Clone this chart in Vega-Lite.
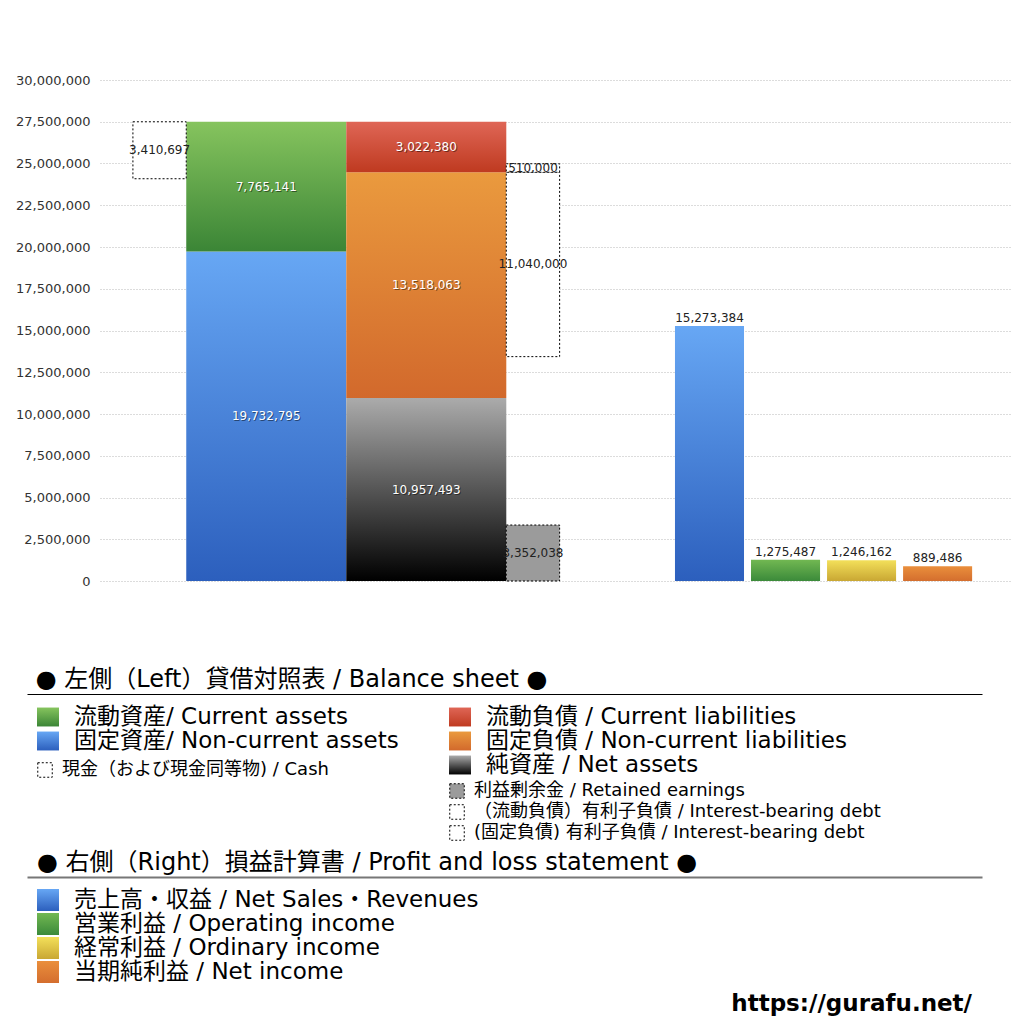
{
  "$schema": "https://vega.github.io/schema/vega-lite/v6.json",
  "padding": {"left": 15, "top": 74, "right": 5, "bottom": 5},
  "background": "white",
  "config": {
    "view": {"stroke": null},
    "font": "DejaVu Sans",
    "title": {"font": "DejaVu Sans, Noto Sans CJK JP", "fontWeight": "normal", "color": "#000000"}
  },
  "datasets": {
    "bs": [
      {"col": "資産", "item": "固定資産", "order": 1, "value": 19732795},
      {"col": "資産", "item": "流動資産", "order": 2, "value": 7765141},
      {"col": "負債・純資産", "item": "純資産", "order": 1, "value": 10957493},
      {"col": "負債・純資産", "item": "固定負債", "order": 2, "value": 13518063},
      {"col": "負債・純資産", "item": "流動負債", "order": 3, "value": 3022380}
    ],
    "boxes": [
      {"col": "現金", "item": "現金", "value": 3410697, "from": 24087239, "to": 27497936},
      {"col": "有利子負債", "item": "利益剰余金", "value": 3352038, "from": 0, "to": 3352038},
      {"col": "有利子負債", "item": "有利子負債(固定)", "value": 11040000, "from": 13435556, "to": 24475556},
      {"col": "有利子負債", "item": "有利子負債(流動)", "value": 510000, "from": 24475556, "to": 24985556}
    ],
    "pl": [
      {"col": "売上高", "item": "売上高", "value": 15273384},
      {"col": "営業利益", "item": "営業利益", "value": 1275487},
      {"col": "経常利益", "item": "経常利益", "value": 1246162},
      {"col": "当期純利益", "item": "当期純利益", "value": 889486}
    ],
    "legendBS": [
      {"col": "L", "row": 1, "kind": "main", "item": "流動資産", "label": "流動資産/ Current assets"},
      {"col": "L", "row": 2, "kind": "main", "item": "固定資産", "label": "固定資産/ Non-current assets"},
      {"col": "R", "row": 1, "kind": "main", "item": "流動負債", "label": "流動負債 /  Current liabilities"},
      {"col": "R", "row": 2, "kind": "main", "item": "固定負債", "label": "固定負債 / Non-current liabilities"},
      {"col": "R", "row": 3, "kind": "main", "item": "純資産", "label": "純資産 / Net assets"},
      {"col": "L", "row": 1, "kind": "sub", "item": "現金", "label": "現金（および現金同等物) / Cash"},
      {"col": "R", "row": 2, "kind": "sub", "item": "利益剰余金", "label": "利益剰余金 / Retained earnings"},
      {"col": "R", "row": 3, "kind": "sub", "item": "有利子負債(流動)", "label": "（流動負債）有利子負債 / Interest-bearing debt"},
      {"col": "R", "row": 4, "kind": "sub", "item": "有利子負債(固定)", "label": "　(固定負債) 有利子負債 / Interest-bearing debt"}
    ],
    "legendPL": [
      {"col": "L", "row": 1, "item": "売上高", "label": "売上高・収益 / Net Sales・Revenues"},
      {"col": "L", "row": 2, "item": "営業利益", "label": "営業利益 / Operating income"},
      {"col": "L", "row": 3, "item": "経常利益", "label": "経常利益 / Ordinary income"},
      {"col": "L", "row": 4, "item": "当期純利益", "label": "当期純利益 / Net income"}
    ]
  },
  "title": {
    "text": "https://gurafu.net/",
    "orient": "bottom",
    "anchor": "end",
    "font": "DejaVu Sans",
    "fontSize": 23,
    "fontWeight": "bold",
    "offset": 7,
    "dx": -83
  },
  "spacing": 80,
  "vconcat": [
    {
      "width": 910,
      "height": 501,
      "layer": [
        {
          "encoding": {
            "x": {
              "field": "col",
              "type": "nominal",
              "axis": null,
              "scale": {
                "type": "band",
                "domain": ["現金", "_a", "資産", "_b", "_c", "負債・純資産", "_d", "有利子負債", "_e", "_f", "_g", "_h", "_i", "_j", "_k", "_l"],
                "paddingInner": 0,
                "paddingOuter": 0.53,
                "align": 0.582
              }
            }
          },
          "layer": [
            {
              "data": {"name": "bs"},
              "transform": [
                {"stack": "value", "groupby": ["col"], "sort": [{"field": "order", "order": "ascending"}], "as": ["lo", "hi"]}
              ],
              "layer": [
                {
                  "encoding": {
                    "y": {
                      "field": "lo",
                      "type": "quantitative",
                      "title": null,
                      "scale": {"domain": [0, 30000000], "nice": false},
                      "axis": {
                        "values": [0, 2500000, 5000000, 7500000, 10000000, 12500000, 15000000, 17500000, 20000000, 22500000, 25000000, 27500000, 30000000],
                        "format": ",d",
                        "labelFont": "DejaVu Sans",
                        "labelFontSize": 13,
                        "labelColor": "#333333",
                        "labelPadding": 10,
                        "ticks": false,
                        "domain": false,
                        "grid": true,
                        "gridColor": "#b8b8b8",
                        "gridDash": [1, 2],
                        "gridWidth": 1,
                        "title": null
                      }
                    },
                    "y2": {"field": "hi"}
                  },
                  "layer": [
                    {
                      "transform": [{"filter": {"field": "item", "equal": "固定資産"}}],
                      "mark": {"type": "bar", "width": {"band": 3}, "color": {"gradient": "linear", "x1": 0, "y1": 0, "x2": 0, "y2": 1, "stops": [{"offset": 0, "color": "#67a7f4"}, {"offset": 1, "color": "#2c5fbd"}]}}
                    },
                    {
                      "transform": [{"filter": {"field": "item", "equal": "流動資産"}}],
                      "mark": {"type": "bar", "width": {"band": 3}, "color": {"gradient": "linear", "x1": 0, "y1": 0, "x2": 0, "y2": 1, "stops": [{"offset": 0, "color": "#86c45e"}, {"offset": 1, "color": "#3b8536"}]}}
                    },
                    {
                      "transform": [{"filter": {"field": "item", "equal": "純資産"}}],
                      "mark": {"type": "bar", "width": {"band": 3}, "color": {"gradient": "linear", "x1": 0, "y1": 0, "x2": 0, "y2": 1, "stops": [{"offset": 0, "color": "#ababab"}, {"offset": 1, "color": "#000000"}]}}
                    },
                    {
                      "transform": [{"filter": {"field": "item", "equal": "固定負債"}}],
                      "mark": {"type": "bar", "width": {"band": 3}, "color": {"gradient": "linear", "x1": 0, "y1": 0, "x2": 0, "y2": 1, "stops": [{"offset": 0, "color": "#ea9a3e"}, {"offset": 1, "color": "#d2692c"}]}}
                    },
                    {
                      "transform": [{"filter": {"field": "item", "equal": "流動負債"}}],
                      "mark": {"type": "bar", "width": {"band": 3}, "color": {"gradient": "linear", "x1": 0, "y1": 0, "x2": 0, "y2": 1, "stops": [{"offset": 0, "color": "#df6656"}, {"offset": 1, "color": "#bf3a20"}]}}
                    }
                  ]
                },
                {
                  "transform": [
                    {"fold": ["lo", "hi"], "as": ["edge", "pos"]},
                    {"aggregate": [{"op": "mean", "field": "pos", "as": "mid"}], "groupby": ["col", "item", "value"]}
                  ],
                  "encoding": {
                    "y": {"field": "mid", "type": "quantitative", "title": null},
                    "text": {"field": "value", "type": "quantitative", "format": ","}
                  },
                  "layer": [
                    {"mark": {"type": "text", "color": "#000000", "opacity": 0.45, "dx": 1, "dy": 1, "fontSize": 12, "baseline": "middle"}},
                    {"mark": {"type": "text", "color": "#ffffff", "fontSize": 12, "baseline": "middle"}}
                  ]
                }
              ]
            },
            {
              "data": {"name": "boxes"},
              "layer": [
                {
                  "mark": {"type": "bar", "stroke": "#000000", "strokeWidth": 1, "strokeDash": [2, 2]},
                  "encoding": {
                    "y": {"field": "from", "type": "quantitative", "title": null},
                    "y2": {"field": "to"},
                    "color": {
                      "field": "item",
                      "type": "nominal",
                      "legend": null,
                      "scale": {"domain": ["現金", "利益剰余金", "有利子負債(流動)", "有利子負債(固定)"], "range": ["#ffffff", "#9b9b9b", "#ffffff", "#ffffff"]}
                    }
                  }
                },
                {
                  "transform": [
                    {"fold": ["from", "to"], "as": ["edge", "pos"]},
                    {"aggregate": [{"op": "mean", "field": "pos", "as": "mid"}], "groupby": ["col", "item", "value"]}
                  ],
                  "mark": {"type": "text", "color": "#222222", "fontSize": 12, "baseline": "middle"},
                  "encoding": {
                    "y": {"field": "mid", "type": "quantitative", "title": null},
                    "text": {"field": "value", "type": "quantitative", "format": ","}
                  }
                }
              ]
            }
          ]
        },
        {
          "data": {"name": "pl"},
          "encoding": {
            "x": {
              "field": "col",
              "type": "nominal",
              "axis": null,
              "scale": {
                "type": "band",
                "domain": ["_p1", "_p2", "_p3", "_p4", "_p5", "_p6", "_p7", "売上高", "営業利益", "経常利益", "当期純利益"],
                "paddingInner": 0.0921,
                "paddingOuter": 0.53,
                "align": 0.53
              }
            },
            "y": {"field": "value", "type": "quantitative", "title": null}
          },
          "layer": [
            {
              "transform": [{"filter": {"field": "item", "equal": "売上高"}}],
              "mark": {"type": "bar", "color": {"gradient": "linear", "x1": 0, "y1": 0, "x2": 0, "y2": 1, "stops": [{"offset": 0, "color": "#67a7f4"}, {"offset": 1, "color": "#2c5fbd"}]}}
            },
            {
              "transform": [{"filter": {"field": "item", "equal": "営業利益"}}],
              "mark": {"type": "bar", "color": {"gradient": "linear", "x1": 0, "y1": 0, "x2": 0, "y2": 1, "stops": [{"offset": 0, "color": "#72b852"}, {"offset": 1, "color": "#3b8a3a"}]}}
            },
            {
              "transform": [{"filter": {"field": "item", "equal": "経常利益"}}],
              "mark": {"type": "bar", "color": {"gradient": "linear", "x1": 0, "y1": 0, "x2": 0, "y2": 1, "stops": [{"offset": 0, "color": "#f3e05a"}, {"offset": 1, "color": "#c9a733"}]}}
            },
            {
              "transform": [{"filter": {"field": "item", "equal": "当期純利益"}}],
              "mark": {"type": "bar", "color": {"gradient": "linear", "x1": 0, "y1": 0, "x2": 0, "y2": 1, "stops": [{"offset": 0, "color": "#ea8f3c"}, {"offset": 1, "color": "#d46e2e"}]}}
            },
            {
              "mark": {"type": "text", "color": "#222222", "fontSize": 12, "baseline": "bottom", "dy": -1},
              "encoding": {"text": {"field": "value", "type": "quantitative", "format": ","}}
            }
          ]
        }
      ],
      "resolve": {"scale": {"x": "independent"}}
    },
    {
      "spacing": 8,
      "vconcat": [
        {
          "width": 955,
          "height": 148,
          "title": {"text": "● 左側（Left）貸借対照表 / Balance sheet ●", "anchor": "start", "fontSize": 24, "offset": 2},
          "data": {"name": "legendBS"},
          "encoding": {
            "x": {
              "field": "col",
              "type": "nominal",
              "scale": {"type": "point", "domain": ["L", "R"], "range": [-73, 882], "padding": 0.659, "align": 0.0387},
              "axis": {"orient": "top", "title": null, "labels": false, "ticks": false, "grid": false, "domain": true, "domainColor": "#000000", "domainWidth": 1}
            }
          },
          "layer": [
            {
              "transform": [{"filter": "datum.kind === 'main'"}],
              "encoding": {
                "y": {
                  "field": "row",
                  "type": "quantitative",
                  "scale": {"domain": [0.04167, 6.20833], "reverse": true, "nice": false, "zero": false},
                  "axis": null
                }
              },
              "layer": [
                {
                  "transform": [{"filter": {"field": "item", "equal": "流動資産"}}],
                  "mark": {"type": "point", "filled": true, "opacity": 1, "shape": "M-1,-0.86H1V0.86H-1Z", "size": 484, "color": {"gradient": "linear", "x1": 0, "y1": 0, "x2": 0, "y2": 1, "stops": [{"offset": 0, "color": "#86c45e"}, {"offset": 1, "color": "#3b8536"}]}}
                },
                {
                  "transform": [{"filter": {"field": "item", "equal": "固定資産"}}],
                  "mark": {"type": "point", "filled": true, "opacity": 1, "shape": "M-1,-0.86H1V0.86H-1Z", "size": 484, "color": {"gradient": "linear", "x1": 0, "y1": 0, "x2": 0, "y2": 1, "stops": [{"offset": 0, "color": "#67a7f4"}, {"offset": 1, "color": "#2c5fbd"}]}}
                },
                {
                  "transform": [{"filter": {"field": "item", "equal": "流動負債"}}],
                  "mark": {"type": "point", "filled": true, "opacity": 1, "shape": "M-1,-0.86H1V0.86H-1Z", "size": 484, "color": {"gradient": "linear", "x1": 0, "y1": 0, "x2": 0, "y2": 1, "stops": [{"offset": 0, "color": "#df6656"}, {"offset": 1, "color": "#bf3a20"}]}}
                },
                {
                  "transform": [{"filter": {"field": "item", "equal": "固定負債"}}],
                  "mark": {"type": "point", "filled": true, "opacity": 1, "shape": "M-1,-0.86H1V0.86H-1Z", "size": 484, "color": {"gradient": "linear", "x1": 0, "y1": 0, "x2": 0, "y2": 1, "stops": [{"offset": 0, "color": "#ea9a3e"}, {"offset": 1, "color": "#d2692c"}]}}
                },
                {
                  "transform": [{"filter": {"field": "item", "equal": "純資産"}}],
                  "mark": {"type": "point", "filled": true, "opacity": 1, "shape": "M-1,-0.86H1V0.86H-1Z", "size": 484, "color": {"gradient": "linear", "x1": 0, "y1": 0, "x2": 0, "y2": 1, "stops": [{"offset": 0, "color": "#ababab"}, {"offset": 1, "color": "#000000"}]}}
                },
                {
                  "mark": {"type": "text", "align": "left", "baseline": "middle", "dx": 26, "fontSize": 23, "font": "DejaVu Sans, Noto Sans CJK JP", "color": "#000000"},
                  "encoding": {"text": {"field": "label"}}
                }
              ]
            },
            {
              "transform": [{"filter": "datum.kind === 'sub'"}],
              "encoding": {
                "y": {
                  "field": "row",
                  "type": "quantitative",
                  "scale": {"domain": [-2.619, 4.429], "reverse": true, "nice": false, "zero": false},
                  "axis": null
                }
              },
              "layer": [
                {
                  "mark": {"type": "point", "filled": true, "opacity": 1, "shape": "square", "size": 210, "stroke": "#000000", "strokeWidth": 1, "strokeDash": [2, 2], "xOffset": -3},
                  "encoding": {"color": {"field": "item", "type": "nominal", "legend": null}}
                },
                {
                  "mark": {"type": "text", "align": "left", "baseline": "middle", "dx": 14, "fontSize": 18, "font": "DejaVu Sans, Noto Sans CJK JP", "color": "#000000"},
                  "encoding": {"text": {"field": "label"}}
                }
              ]
            }
          ],
          "resolve": {"scale": {"y": "independent"}}
        },
        {
          "width": 955,
          "height": 109,
          "title": {"text": "● 右側（Right）損益計算書 / Profit and loss statement ●", "anchor": "start", "fontSize": 24, "offset": 2},
          "data": {"name": "legendPL"},
          "encoding": {
            "x": {
              "field": "col",
              "type": "nominal",
              "scale": {"type": "point", "domain": ["L", "R"], "range": [-73, 882], "padding": 0.659, "align": 0.0387},
              "axis": {"orient": "top", "title": null, "labels": false, "ticks": false, "grid": false, "domain": true, "domainColor": "#777777", "domainWidth": 2}
            },
            "y": {
              "field": "row",
              "type": "quantitative",
              "scale": {"domain": [0.04167, 4.58333], "reverse": true, "nice": false, "zero": false},
              "axis": null
            }
          },
          "layer": [
            {
              "transform": [{"filter": {"field": "item", "equal": "売上高"}}],
              "mark": {"type": "point", "filled": true, "opacity": 1, "shape": "square", "size": 484, "color": {"gradient": "linear", "x1": 0, "y1": 0, "x2": 0, "y2": 1, "stops": [{"offset": 0, "color": "#67a7f4"}, {"offset": 1, "color": "#2c5fbd"}]}}
            },
            {
              "transform": [{"filter": {"field": "item", "equal": "営業利益"}}],
              "mark": {"type": "point", "filled": true, "opacity": 1, "shape": "square", "size": 484, "color": {"gradient": "linear", "x1": 0, "y1": 0, "x2": 0, "y2": 1, "stops": [{"offset": 0, "color": "#72b852"}, {"offset": 1, "color": "#3b8a3a"}]}}
            },
            {
              "transform": [{"filter": {"field": "item", "equal": "経常利益"}}],
              "mark": {"type": "point", "filled": true, "opacity": 1, "shape": "square", "size": 484, "color": {"gradient": "linear", "x1": 0, "y1": 0, "x2": 0, "y2": 1, "stops": [{"offset": 0, "color": "#f3e05a"}, {"offset": 1, "color": "#c9a733"}]}}
            },
            {
              "transform": [{"filter": {"field": "item", "equal": "当期純利益"}}],
              "mark": {"type": "point", "filled": true, "opacity": 1, "shape": "square", "size": 484, "color": {"gradient": "linear", "x1": 0, "y1": 0, "x2": 0, "y2": 1, "stops": [{"offset": 0, "color": "#ea8f3c"}, {"offset": 1, "color": "#d46e2e"}]}}
            },
            {
              "mark": {"type": "text", "align": "left", "baseline": "middle", "dx": 26, "fontSize": 23, "font": "DejaVu Sans, Noto Sans CJK JP", "color": "#000000"},
              "encoding": {"text": {"field": "label"}}
            }
          ]
        }
      ]
    }
  ]
}
